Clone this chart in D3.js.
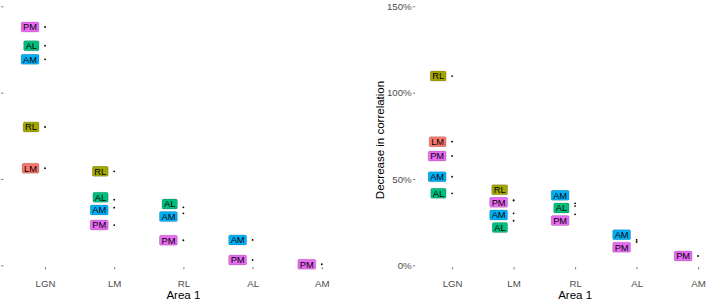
<!DOCTYPE html>
<html><head><meta charset="utf-8">
<script src="https://cdn.jsdelivr.net/npm/d3@7"></script>
<style>body{margin:0;background:#fff}svg{display:block}text{font-family:"Liberation Sans",Arial,sans-serif}</style>
</head><body><svg id="c" width="708" height="303"></svg>
<script>
// ---- data ----
const categories = ["LGN", "LM", "RL", "AL", "AM"];            // Area 1
const areas = ["LM", "RL", "AL", "AM", "PM"];                   // Area 2
const areaColors = ["#F8766D", "#A3A500", "#00BF7D", "#00B0F6", "#E76BF3"];
const yTicks = [0, 50, 100, 150];
// left panel, % decrease, by Area 2 across Area 1 categories
const leftLM = [56.2, null, null, null, null];
const leftRL = [80.1, 54.4, null, null, null];
const leftAL = [127.2, 38.0, 33.6, null, null];
const leftAM = [119.3, 33.4, 30.1, 14.7, null];
const leftPM = [138.0, 23.3, 14.5, 3.1, 0.6];
// right panel
const rightLM = [71.6, null, null, null, null];
const rightRL = [109.6, 37.8, null, null, null];
const rightAL = [41.7, 25.8, 34.3, null, null];
const rightAM = [51.3, 30.1, 35.9, 14.7, null];
const rightPM = [63.3, 37.5, 29.5, 13.5, 5.4];

const leftSeries = [leftLM, leftRL, leftAL, leftAM, leftPM];
const rightSeries = [rightLM, rightRL, rightAL, rightAM, rightPM];

const svg = d3.select("#c");
const y = d3.scaleLinear().domain([0, 150]).range([265.3, 6.3]);
const color = d3.scaleOrdinal().domain(areas).range(areaColors);
const axisBottomY = 267;

function panel(series, x0, x1, showY) {
  const x = d3.scalePoint().domain(categories).range([x0, x1]).padding(0.6);
  const g = svg.append("g");
  // y axis
  const ya = g.append("g").attr("transform", `translate(${x0},0)`)
    .call(d3.axisLeft(y).tickValues(yTicks).tickSize(2.5).tickPadding(1)
      .tickFormat(showY ? (d => d + "%") : ""));
  ya.select(".domain").remove();
  ya.selectAll("line").attr("stroke", "#333").attr("stroke-width", 0.6);
  ya.selectAll("text").attr("fill", "#4d4d4d").attr("font-size", "9.7px")
    .attr("font-family", "Liberation Sans, Arial, sans-serif");
  // x axis
  const xa = g.append("g").attr("transform", `translate(0,${axisBottomY})`)
    .call(d3.axisBottom(x).tickSize(2.5).tickPadding(11));
  xa.select(".domain").remove();
  xa.selectAll("line").attr("stroke", "#333").attr("stroke-width", 0.6);
  xa.selectAll("text").attr("fill", "#4d4d4d").attr("font-size", "9.7px")
    .attr("font-family", "Liberation Sans, Arial, sans-serif");
  // axis title
  g.append("text").attr("x", (x0 + x1) / 2).attr("y", 299).attr("text-anchor", "middle")
    .attr("font-size", "11.5px").attr("fill", "#000").text("Area 1");

  // points
  const pts = [];
  series.forEach((vals, i) => vals.forEach((v, j) => {
    if (v !== null) pts.push({area: areas[i], cat: categories[j], v, px: x(categories[j]), py: y(v)});
  }));
  g.selectAll("circle.pt").data(pts).enter().append("circle")
    .attr("cx", d => d.px).attr("cy", d => d.py).attr("r", 0.9).attr("fill", "#000");

  // labels with simple vertical repel per category
  const H = 10, gap = 2.6;
  const lg = g.append("g");
  const labs = pts.map(d => {
    const t = lg.append("text").attr("font-size", "9.3px").attr("fill", "#000")
      .attr("text-anchor", "middle").attr("dominant-baseline", "central").text(d.area);
    const w = t.node().getComputedTextLength() + 4;
    return {d, t, w, ly: d.py};
  });
  categories.forEach(c => {
    const grp = labs.filter(l => l.d.cat === c).sort((a, b) => a.ly - b.ly);
    for (let it = 0; it < 200; it++) {
      for (let k = 1; k < grp.length; k++) {
        const a = grp[k - 1], b = grp[k];
        const need = H + gap - (b.ly - a.ly);
        if (need > 0) { a.ly -= need / 2; b.ly += need / 2; }
      }
    }
  });
  labs.forEach(l => {
    const cx = l.d.px - 6 - l.w / 2;
    lg.insert("rect", "text").attr("x", cx - l.w / 2).attr("y", l.ly - H / 2)
      .attr("width", l.w).attr("height", H).attr("rx", 1.5)
      .attr("fill", color(l.d.area)).attr("stroke", "rgba(0,0,0,0.3)").attr("stroke-width", 0.5);
    l.t.attr("x", cx).attr("y", l.ly + 0.3).raise();
  });
}

panel(leftSeries, 3.5, 363.3, false);
panel(rightSeries, 415.2, 735, true);

svg.append("text").attr("transform", "translate(384,140) rotate(-90)")
  .attr("text-anchor", "middle").attr("font-size", "11.5px").attr("fill", "#000")
  .text("Decrease in correlation");
</script></body></html>
